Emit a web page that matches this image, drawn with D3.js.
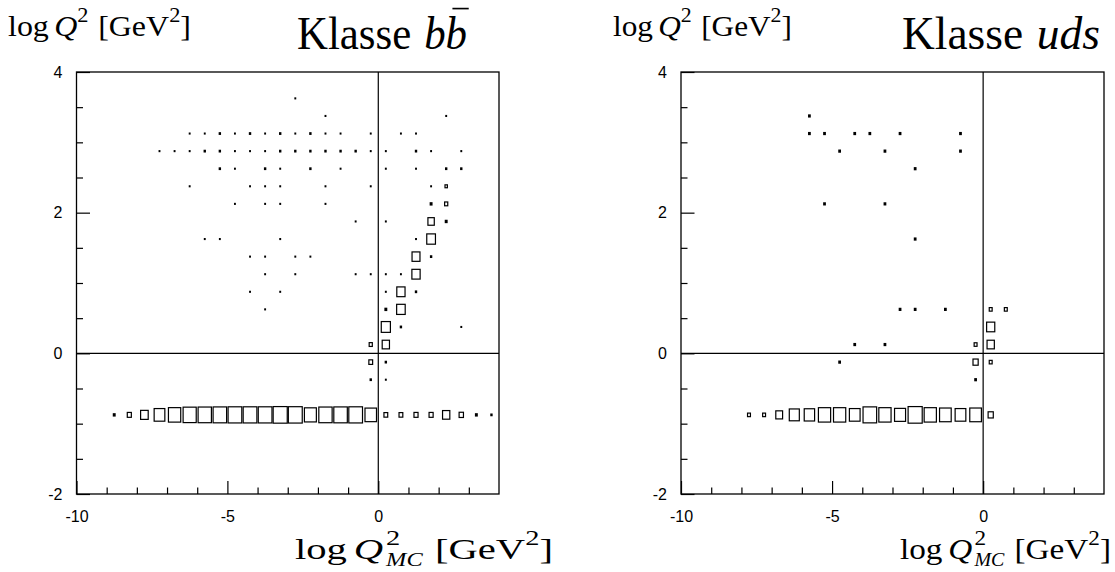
<!DOCTYPE html>
<html>
<head>
<meta charset="utf-8">
<script src="https://cdn.jsdelivr.net/npm/d3@7"></script>
<style>
  body { margin: 0; background: #fff; }
  svg { display: block; }
</style>
</head>
<body>
<svg id="fig" width="1115" height="572"></svg>
<script>
// ---- Class b b̄ : 2D histogram, rows of log Q² (bin centre), columns of log Q²_MC ----
const bbRowLogQ2 = [3.625, 3.375, 3.125, 2.875, 2.625, 2.375, 2.125, 1.875, 1.625, 1.375,
                    1.125, 0.875, 0.625, 0.375, 0.125, -0.125, -0.375, -0.875];
const bbRowLogQ2MC = [
  [-2.75],
  [-1.75, 2.25],
  [-6.25, -5.75, -5.25, -4.75, -4.25, -3.75, -3.25, -2.75, -2.25, -1.75, -1.25, -0.25, 0.75, 1.25],
  [-7.25, -6.75, -6.25, -5.75, -5.25, -4.75, -4.25, -3.75, -3.25, -2.75, -2.25, -1.75, -1.25, -0.75, -0.25, 0.25, 1.25, 1.75, 2.75],
  [-5.25, -4.75, -3.75, -3.25, -2.25, -1.25, 0.25, 1.25, 2.25, 2.75],
  [-6.25, -4.25, -3.75, -3.25, -1.75, -0.25, 1.75, 2.25],
  [-4.75, -3.75, -3.25, -1.75, 1.75, 2.25],
  [-0.75, 0.25, 1.75, 2.25],
  [-5.75, -5.25, -3.25, 1.25, 1.75],
  [-4.25, -3.75, -2.75, -2.25, 1.25, 1.75],
  [-3.75, -2.75, -0.75, -0.25, 0.25, 0.75, 1.25],
  [-4.25, -3.25, 0.25, 0.75, 1.25],
  [-3.75, 0.25, 0.75],
  [0.25, 0.75, 2.75],
  [-0.25, 0.25],
  [-0.25, 0.25],
  [-0.25, 0.25],
  [-8.75, -8.25, -7.75, -7.25, -6.75, -6.25, -5.75, -5.25, -4.75, -4.25, -3.75, -3.25, -2.75,
   -2.25, -1.75, -1.25, -0.75, -0.25, 0.25, 0.75, 1.25, 1.75, 2.25, 2.75, 3.25, 3.75]
];
const bbRowCount = [
  [1],
  [1, 1],
  [1, 1, 2, 1, 2, 1, 2, 1, 2, 1, 1, 1, 1, 1],
  [1, 1, 1, 2, 2, 1, 1, 1, 2, 2, 2, 2, 2, 2, 1, 1, 2, 1, 1],
  [2, 1, 2, 1, 2, 1, 1, 1, 2, 2],
  [1, 1, 1, 1, 1, 1, 1, 4],
  [1, 1, 1, 1, 3, 6],
  [1, 1, 19, 3],
  [1, 1, 1, 1, 33],
  [1, 1, 1, 1, 28, 2],
  [1, 1, 1, 1, 1, 1, 30],
  [1, 1, 1, 30, 2],
  [1, 3, 32],
  [36, 2, 1],
  [6, 24],
  [8, 2],
  [2, 1],
  [3, 9, 26, 48, 62, 70, 72, 74, 76, 76, 76, 80, 78, 59, 72, 74, 76, 55, 8, 8, 9, 9, 24, 10, 3, 2]
];

// ---- Class uds ----
const udsRowLogQ2 = [3.375, 3.125, 2.875, 2.625, 2.125, 1.625, 0.625, 0.375, 0.125, -0.125, -0.375, -0.875];
const udsRowLogQ2MC = [
  [-5.75],
  [-5.75, -5.25, -4.25, -3.75, -2.75, -0.75],
  [-4.75, -3.25, -0.75],
  [-2.25],
  [-5.25, -3.25],
  [-2.25],
  [-2.75, -2.25, -1.25, 0.25, 0.75],
  [0.25],
  [-4.25, -3.25, -0.25, 0.25],
  [-4.75, -0.25, 0.25],
  [-0.25],
  [-7.75, -7.25, -6.75, -6.25, -5.75, -5.25, -4.75, -4.25, -3.75, -3.25, -2.75, -2.25, -1.75,
   -1.25, -0.75, -0.25, 0.25]
];
const udsRowCount = [
  [1],
  [1, 1, 1, 1, 1, 1],
  [1, 1, 1],
  [1],
  [1, 1],
  [1],
  [1, 1, 1, 2, 2],
  [11],
  [1, 1, 2, 9],
  [1, 5, 2],
  [1],
  [2, 2, 8, 16, 17, 23, 23, 18, 28, 23, 19, 30, 23, 21, 18, 21, 5]
];

// axis ranges, bin widths and tick values
const xDomain = [-10, 4];
const yDomain = [-2, 4];
const xBinWidth = 0.5;
const yBinWidth = 0.25;
const xTicksMajor = [-10, -5, 0];
const xTicksMinor = [-9, -8, -7, -6, -4, -3, -2, -1, 1, 2, 3];
const yTicksMajor = [-2, 0, 2, 4];
const yTicksMinor = [-1.5, -1, -0.5, 0.5, 1, 1.5, 2.5, 3, 3.5];

const svg = d3.select('#fig');
svg.append('rect').attr('width', 1115).attr('height', 572).attr('fill', '#fff');

const SERIF = "'Liberation Serif', 'DejaVu Serif', serif";
const SANS = "'Liberation Sans', Arial, sans-serif";

// small typesetting helper: lays out pieces left to right, supports
// superscripts, stacked sub/superscripts and an overbar
function mathText(parent, parts, size) {
  const g = parent.append('g').attr('font-family', SERIF).attr('fill', '#000');
  let cx = 0;
  for (const p of parts) {
    if (p.space !== undefined) { cx += p.space * size; continue; }
    const fs = p.sup ? size * 0.7 : size;
    const dy = p.sup ? -0.47 * size : 0;
    const t = g.append('text').attr('x', cx).attr('y', 0);
    const main = t.append('tspan')
      .attr('x', cx).attr('y', dy)
      .attr('font-size', fs)
      .attr('font-style', p.it ? 'italic' : 'normal')
      .text(p.t);
    let w = main.node().getComputedTextLength();
    if (p.sub) {
      const s = t.append('tspan')
        .attr('x', cx).attr('y', 0.22 * size)
        .attr('font-size', size * 0.6)
        .attr('font-style', 'italic')
        .text(p.sub);
      w = Math.max(w, s.node().getComputedTextLength());
    }
    if (p.bar) {
      g.append('line')
        .attr('x1', cx + 0.16 * size).attr('x2', cx + w + 0.04 * size)
        .attr('y1', -0.86 * size).attr('y2', -0.86 * size)
        .attr('stroke', '#000').attr('stroke-width', size * 0.035);
    }
    cx += w + (p.kern || 0) * size;
  }
  return { g, width: cx };
}

function placeMath(parent, parts, size, x0, x1, baseline) {
  const m = mathText(parent, parts, size);
  const sx = (x1 - x0) / m.width;
  m.g.attr('transform', `translate(${x0},${baseline}) scale(${sx},1)`);
}

const yLabelParts = [
  { t: 'log' }, { space: 0.17 }, { t: 'Q', it: true }, { t: '2', sup: true },
  { space: 0.3 }, { t: '[GeV' }, { t: '2', sup: true }, { t: ']' }
];
const xLabelParts = [
  { t: 'log' }, { space: 0.17 }, { t: 'Q', it: true, kern: 0.07 }, { t: '2', sup: true, sub: 'MC' },
  { space: 0.3 }, { t: '[GeV' }, { t: '2', sup: true }, { t: ']' }
];

function drawPanel(opt) {
  const x = d3.scaleLinear().domain(xDomain).range([opt.left, opt.right]);
  const y = d3.scaleLinear().domain(yDomain).range([opt.bottom, opt.top]);
  const g = svg.append('g');

  const cellW = x(xBinWidth) - x(0);
  const cellH = y(0) - y(yBinWidth);

  // flatten the rows into cells
  const cells = [];
  opt.rowY.forEach((yv, i) => {
    opt.rowX[i].forEach((xv, j) => cells.push({ x: xv, y: yv, n: opt.rowN[i][j] }));
  });
  const side = d3.scaleSqrt().domain([0, d3.max(cells, d => d.n)]).range([0, 1]);

  // boxes: side length grows with the square root of the bin content
  g.append('g').selectAll('rect')
    .data(cells)
    .join('rect')
    .each(function (d) {
      const f = side(d.n);
      const w = f * cellW, h = f * cellH;
      const cx = x(d.x), cy = y(d.y);
      const r = d3.select(this);
      if (w < 3.2) {
        const ww = Math.max(w, 1.9), hh = Math.max(h, 2.1);
        r.attr('x', cx - ww / 2).attr('y', cy - hh / 2)
         .attr('width', ww).attr('height', hh)
         .attr('fill', '#000');
      } else {
        r.attr('x', cx - w / 2 + 0.5).attr('y', cy - h / 2 + 0.5)
         .attr('width', w - 1).attr('height', h - 1)
         .attr('fill', 'none').attr('stroke', '#000').attr('stroke-width', 1.2);
      }
    });

  // zero lines
  g.append('line').attr('x1', x(0)).attr('x2', x(0)).attr('y1', y(yDomain[0])).attr('y2', y(yDomain[1]))
    .attr('stroke', '#000').attr('stroke-width', 1.2);
  g.append('line').attr('x1', x(xDomain[0])).attr('x2', x(xDomain[1])).attr('y1', y(0)).attr('y2', y(0))
    .attr('stroke', '#000').attr('stroke-width', 1.2);

  // frame
  g.append('rect')
    .attr('x', x(xDomain[0])).attr('y', y(yDomain[1]))
    .attr('width', x(xDomain[1]) - x(xDomain[0])).attr('height', y(yDomain[0]) - y(yDomain[1]))
    .attr('fill', 'none').attr('stroke', '#000').attr('stroke-width', 1.3);

  // axes (ticks point inwards)
  const styleAxis = s => {
    s.select('.domain').remove();
    s.selectAll('line').attr('stroke', '#000').attr('stroke-width', 1.2);
    s.selectAll('text').attr('font-family', SANS).attr('font-size', 16).attr('fill', '#000');
  };
  g.append('g').attr('transform', `translate(${opt.left},0)`)
    .call(d3.axisLeft(y).tickValues(yTicksMinor).tickSizeInner(-6.5).tickSizeOuter(0).tickFormat(''))
    .call(styleAxis);
  g.append('g').attr('transform', `translate(${opt.left},0)`)
    .call(d3.axisLeft(y).tickValues(yTicksMajor).tickSizeInner(-13.5).tickSizeOuter(0)
      .tickPadding(14).tickFormat(d => String(d)))
    .call(styleAxis);
  g.append('g').attr('transform', `translate(0,${opt.bottom})`)
    .call(d3.axisBottom(x).tickValues(xTicksMinor).tickSizeInner(-6.5).tickSizeOuter(0).tickFormat(''))
    .call(styleAxis);
  g.append('g').attr('transform', `translate(0,${opt.bottom})`)
    .call(d3.axisBottom(x).tickValues(xTicksMajor).tickSizeInner(-13).tickSizeOuter(0)
      .tickPadding(17).tickFormat(d => String(d)))
    .call(styleAxis);

  // labels and title
  placeMath(g, yLabelParts, 29, opt.yLab[0], opt.yLab[1], 36);
  placeMath(g, opt.titleParts, 47, opt.title[0], opt.title[1], 49);
  placeMath(g, xLabelParts, 30, opt.xLab[0], opt.xLab[1], 559);
}

drawPanel({
  left: 76.5, right: 499, top: 72, bottom: 494,
  rowY: bbRowLogQ2, rowX: bbRowLogQ2MC, rowN: bbRowCount,
  titleParts: [{ t: 'Klasse' }, { space: 0.3 }, { t: 'b', it: true }, { t: 'b', it: true, bar: true }],
  yLab: [8, 191], title: [297, 467], xLab: [295, 553]
});

drawPanel({
  left: 681, right: 1104, top: 72, bottom: 494,
  rowY: udsRowLogQ2, rowX: udsRowLogQ2MC, rowN: udsRowCount,
  titleParts: [{ t: 'Klasse' }, { space: 0.3 }, { t: 'uds', it: true }],
  yLab: [613, 792], title: [902, 1100], xLab: [900, 1111]
});
</script>
</body>
</html>
